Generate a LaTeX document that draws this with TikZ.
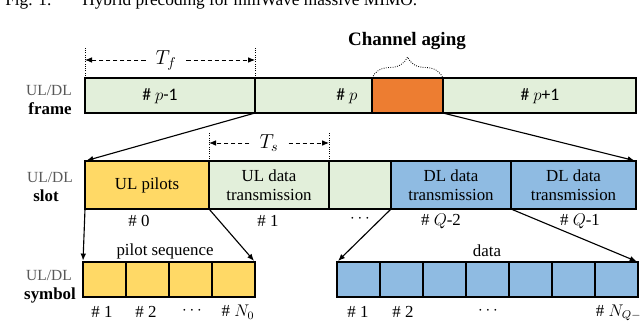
\documentclass[tikz,border=0pt]{standalone}
\usepackage{fontspec}
\setmainfont{Liberation Serif}
\newfontfamily\calfont{Carlito}
\usetikzlibrary{arrows.meta,decorations.pathreplacing}

\definecolor{framegreen}{HTML}{E2EFDA}
\definecolor{agingorange}{HTML}{ED7D31}
\definecolor{pilotyellow}{HTML}{FFD966}
\definecolor{datablue}{HTML}{8FBBE2}
\definecolor{labelgray}{HTML}{595959}

\tikzset{
	>={Latex[length=5pt,width=4pt]},
	box/.style={draw, line width=1.1pt, inner sep=0pt, outer sep=0pt, anchor=north west, align=center},
	framebox/.style={box, fill=framegreen, minimum height=0.875cm},
	slotbox/.style={box, minimum height=1.2cm, font=\fontsize{12}{13.5}\selectfont},
	symbox/.style={box, minimum width=1.075cm, minimum height=0.875cm},
	framelabel/.style={font=\calfont\fontsize{12.5}{14}\selectfont},
	rowtop/.style={text=labelgray, font=\fontsize{11}{13}\selectfont},
	rowname/.style={font=\bfseries\fontsize{12}{14}\selectfont},
	numlabel/.style={font=\fontsize{12}{14}\selectfont},
	dimlabel/.style={font=\fontsize{14}{16}\selectfont, inner xsep=7pt},
	dimline/.style={densely dashed, line width=0.6pt},
	guide/.style={densely dotted, line width=0.6pt},
	link/.style={->, line width=0.8pt, shorten >=1pt}
}

\begin{document}
\begin{tikzpicture}[x=0.025cm, y=-0.025cm]
	\useasboundingbox (0,0) rectangle (640,328);
	\clip (0,0) rectangle (640,328);
	% caption of the figure above, cut by the page edge
	\node[anchor=base west, inner sep=0pt, font=\fontsize{12.3}{14}\selectfont] (cap) at (5,6) {Fig. 1.\hspace{22pt}Hybrid precoding for mmWave massive MIMO.};

	% frames
	\node[framebox, minimum width=4.25cm] (f1) at (85,78) {};
	\node[framebox, minimum width=2.925cm] (f2) at (255,78) {};
	\node[framebox, fill=agingorange, minimum width=1.775cm] (fage) at (372,78) {};
	\node[framebox, minimum width=4.825cm] (f3) at (443,78) {};
	\node[framelabel] (lf1) at (160,96) {\# $p$-1};
	\node[framelabel] (lf2) at (347,96) {\# $p$};
	\node[framelabel] (lf3) at (540,96) {\# $p$+1};
	\node[rowtop] (rf1) at (49,90) {UL/DL};
	\node[rowname] (rf2) at (50,109) {frame};

	% channel aging
	\draw[guide, decorate, decoration={brace, amplitude=0.525cm}] (fage.north west) -- (fage.north east);
	\node[font=\bfseries\fontsize{13.5}{15}\selectfont] (aging) at (407,41) {Channel aging};

	% T_f
	\draw[guide] (f1.north west) -- ++(0,-30);
	\draw[guide] (f1.north east) -- ++(0,-30);
	\node[dimlabel] (tf) at (166,60) {$T_f$};
	\draw[dimline, ->] (tf.west) -- (tf.west -| f1.north west);
	\draw[dimline, ->] (tf.east) -- (tf.east -| f1.north east);

	% slots
	\node[slotbox, fill=pilotyellow, minimum width=3.1cm] (s0) at (85,161) {UL pilots};
	\node[slotbox, fill=framegreen, minimum width=3cm] (s1) at (209,161) {UL data\\transmission};
	\node[slotbox, fill=framegreen, minimum width=1.55cm] (sdots) at (329,161) {};
	\node[slotbox, fill=datablue, minimum width=3cm] (sq2) at (391,161) {DL data\\transmission};
	\node[slotbox, fill=datablue, minimum width=3.125cm] (sq1) at (511,161) {DL data\\transmission};
	\node[rowtop] (rs1) at (50,177) {UL/DL};
	\node[rowname] (rs2) at (46,196) {slot};
	\node[numlabel] (n0) at (139,221) {\# 0};
	\node[numlabel] (n1) at (268,221) {\# 1};
	\node[numlabel] (ndots) at (360,219) {$\cdots$};
	\node[numlabel] (nq2) at (441,221) {\# $Q$-2};
	\node[numlabel] (nq1) at (580,221) {\# $Q$-1};

	% T_s
	\draw[guide] (s1.north west) -- ++(0,-29);
	\draw[guide] (s1.north east) -- ++(0,-29);
	\node[dimlabel] (ts) at (269,143) {$T_s$};
	\draw[dimline, ->] (ts.west) -- (ts.west -| s1.north west);
	\draw[dimline, ->] (ts.east) -- (ts.east -| s1.north east);

	% symbols
	\foreach \i in {1,...,4}
		\node[symbox, fill=pilotyellow] (p\i) at ({83+43*(\i-1)},262) {};
	\foreach \i in {1,...,7}
		\node[symbox, fill=datablue] (d\i) at ({337+43*(\i-1)},262) {};
	\node[rowtop] (ry1) at (49,275) {UL/DL};
	\node[rowname] (ry2) at (50,295) {symbol};
	\node[numlabel] (pseq) at (165,251) {pilot sequence};
	\node[numlabel] (dseq) at (487,251) {data};
	\node[numlabel] (np1) at (102,312) {\# 1};
	\node[numlabel] (np2) at (146,312) {\# 2};
	\node[numlabel] (npdots) at (192,311) {$\cdots$};
	\node[numlabel] (npn) at (238,312) {\# $N_0$};
	\node[numlabel] (nd1) at (358,312) {\# 1};
	\node[numlabel] (nd2) at (403,312) {\# 2};
	\node[numlabel] (nddots) at (488,311) {$\cdots$};
	\node[numlabel, anchor=west] (ndn) at (591,313) {\# $N_{Q-2}$};

	% zoom-in connectors
	\draw[link] (f2.south west) -- (s0.north west);
	\draw[link] (fage.south east) -- (sq1.north east);
	\draw[link] (s0.south west) -- (p1.north west);
	\draw[link] (s0.south east) -- (p4.north east);
	\draw[link] (sdots.south east) -- (d1.north west);
	\draw[link] (sq2.south east) -- (d7.north east);
\end{tikzpicture}
\end{document}
